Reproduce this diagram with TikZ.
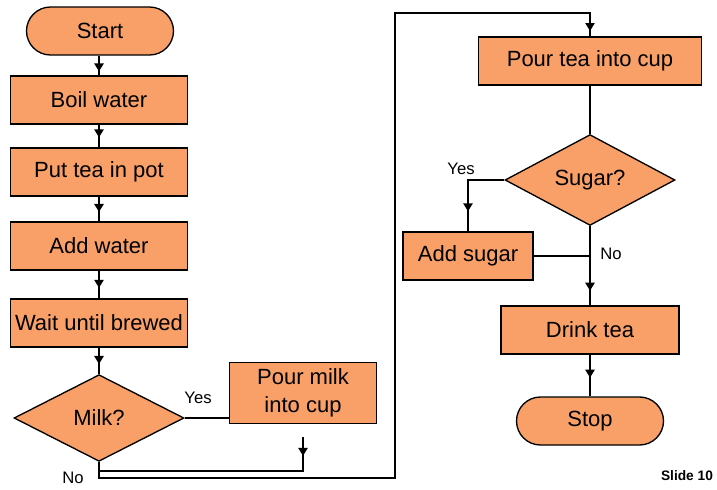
\documentclass[tikz,border=0pt]{standalone}
\usepackage{fontspec}
\setmainfont{Liberation Sans}
\usetikzlibrary{positioning,shapes.geometric,arrows.meta,decorations.markings}
\definecolor{teaorange}{RGB}{248,160,104}

\tikzset{
  box/.style={draw, fill=teaorange, line width=1pt, minimum width=#1, minimum height=36pt,
    inner sep=2pt, align=center, font=\fontsize{16.5}{21}\selectfont},
  box/.default=132.75pt,
  terminal/.style={box=110.25pt, rounded corners=18pt},
  decision/.style={draw, fill=teaorange, line width=1pt, diamond, inner sep=0pt,
    minimum width=127.5pt, minimum height=65pt, font=\fontsize{16.5}{21}\selectfont},
  line/.style={draw, line width=1.1pt},
  flow/.style={line, decoration={markings,
    mark=at position #1 with {\arrow{Triangle[length=6pt,width=7pt]}}},
    postaction={decorate}},
  flow/.default=0.62,
  lbl/.style={font=\fontsize{12.5}{14}\selectfont}
}

\begin{document}
\begin{tikzpicture}[x=0.75pt, y=-0.75pt]
        \useasboundingbox (0,0) rectangle (717,489);
        % left column
        \node[terminal] (start) at (100,31) {Start};
        \node[box] (boil) at (99,100) {Boil water};
        \node[box] (pot) at (99,172) {Put tea in pot};
        \node[box] (addwater) at (99,246) {Add water};
        \node[box] (wait) at (99,323) {Wait until brewed};
        \node[decision] (milk) at (99,418) {Milk?};
        \node[box=110.25pt, minimum height=45.75pt] (pourmilk) at (303,393) {Pour milk\\into cup};
        % right column
        \node[box=167.25pt] (pourtea) at (590,61) {Pour tea into cup};
        \node[decision] (sugar) at (590,180) {Sugar?};
        \node[box=97.5pt] (addsugar) at (468,256) {Add sugar};
        \node[box=133.5pt] (drink) at (590,330) {Drink tea};
        \node[terminal] (stop) at (590,421) {Stop};

        \coordinate [below = 9.75pt of pourmilk.south] (milkout);
        \coordinate (milkjoin) at (99,471);
        \coordinate (lowrun) at (395,478);
        \coordinate (highrun) at (395,13);

        \draw[flow=0.8] (start.south -| boil.north) -- (boil);
        \draw[flow=0.56] (boil) -- (pot);
        \draw[flow] (pot) -- (addwater);
        \draw[flow] (addwater) -- (wait);
        \draw[flow] (wait) -- (milk);
        \draw[line] (milk.east) -- (milk.east -| pourmilk.west);
        \draw[flow=14pt] (milkout) |- (milkjoin);
        \draw[flow=-4pt] (milk.south) |- (lowrun) -- (highrun) -| (pourtea.north);
        \draw[line] (pourtea) -- (sugar);
        \draw[flow=-15pt] (sugar.west) -| (addsugar.north);
        \draw[line] (addsugar.east) -- (addsugar.east -| sugar.south);
        \draw[flow=-11pt] (sugar) -- (drink);
        \draw[flow=-14pt] (drink) -- (stop);

        % branch labels
        \node[lbl] (milkyes) at (198,398) {Yes};
        \node[lbl] (milkno) at (73,478) {No};
        \node[lbl] (sugaryes) at (461,169) {Yes};
        \node[lbl] (sugarno) at (611,254) {No};
        \node[font=\bfseries\fontsize{10.3}{12}\selectfont] (slide) at (687,476) {Slide 10};
    \end{tikzpicture}
\end{document}
